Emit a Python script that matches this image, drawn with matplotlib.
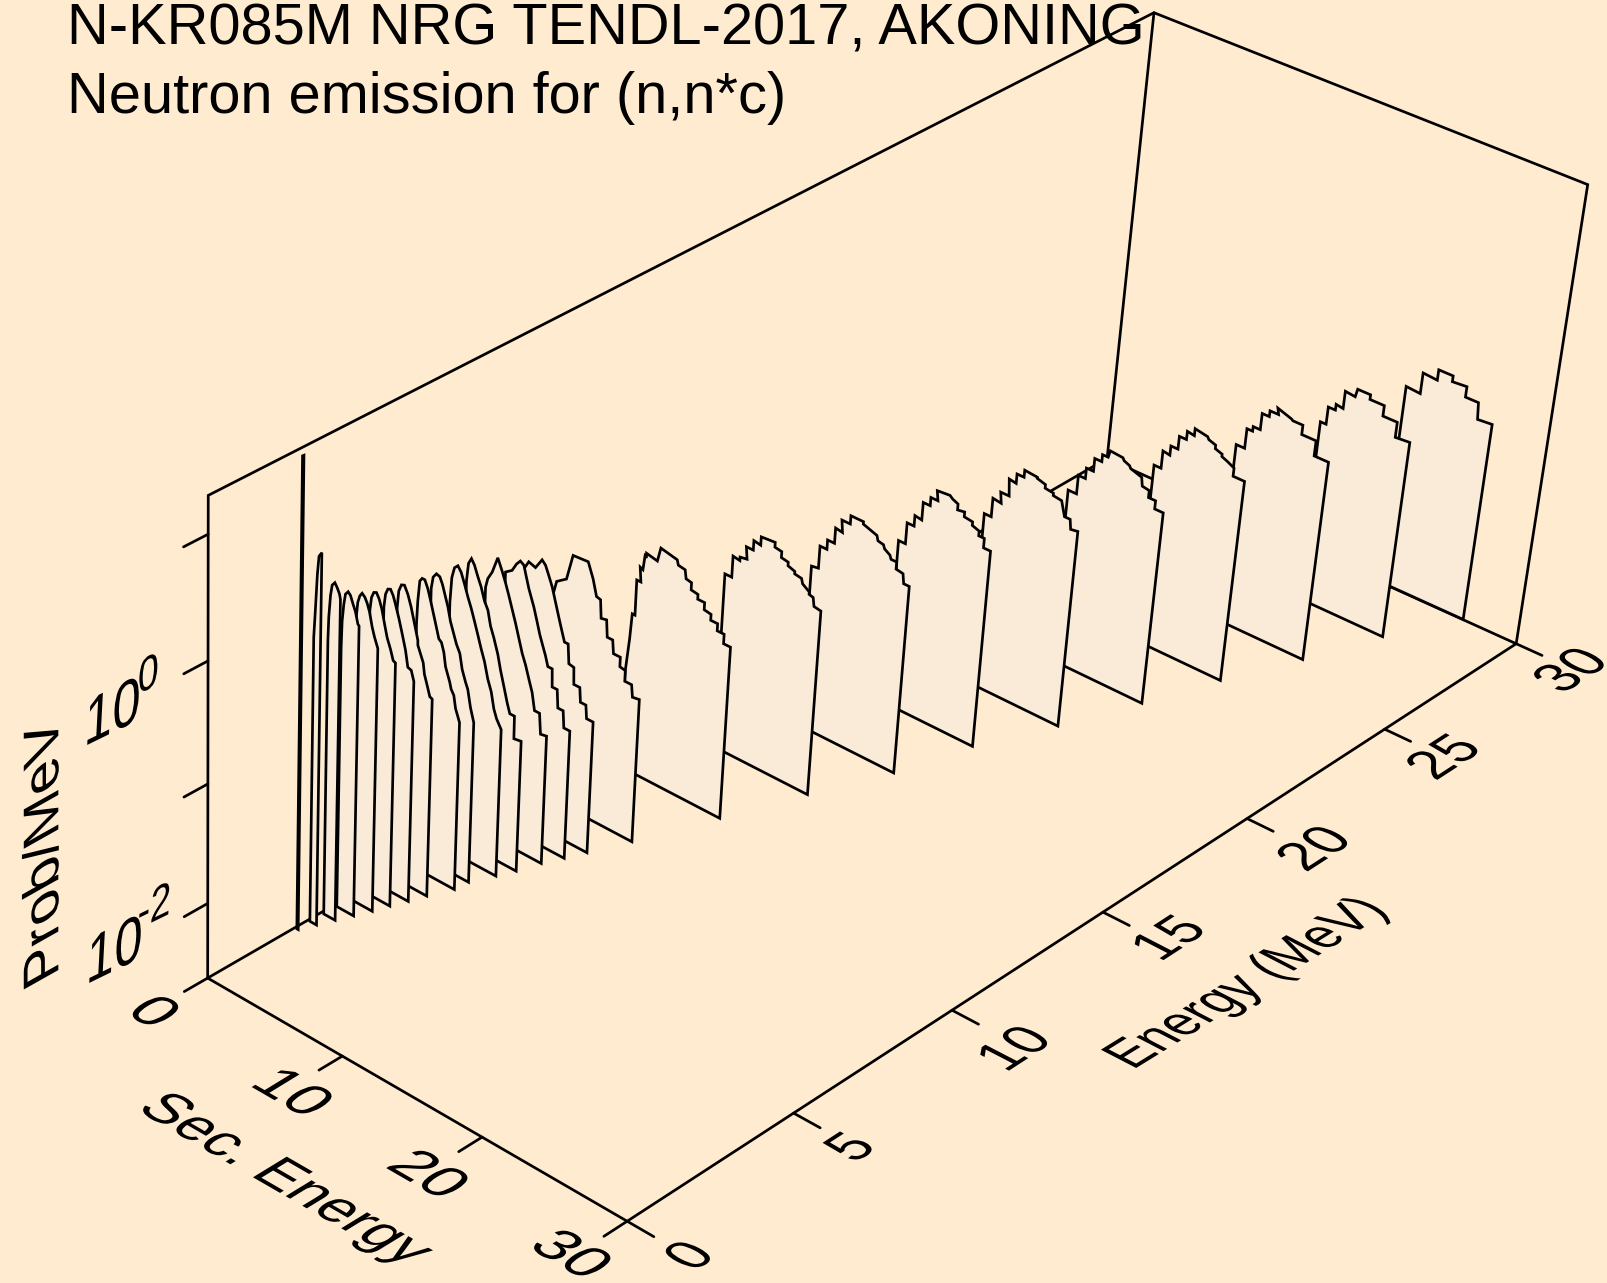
import numpy as np, matplotlib
matplotlib.use('Agg')
import matplotlib.pyplot as plt
from matplotlib.patheffects import AbstractPathEffect
from matplotlib.transforms import Affine2D
from mpl_toolkits.mplot3d.art3d import Poly3DCollection

W, H = 1607, 1283
BG = '#FFEBCF'; FACE = '#FAEBD9'; FONT = 'Liberation Sans'; LW = 1.95

# ---------- data ----------
title_lines = ['N-KR085M NRG TENDL-2017, AKONING', 'Neutron emission for (n,n*c)']
energy_ticks = [0, 5, 10, 15, 20, 25, 30]
sec_ticks = [0, 10, 20, 30]
logprob_major = [-2, 0]
logprob_minor = [-1, 1]
sec_lim = (0, 30); energy_lim = (0, 30); logprob_lim = (-2.64, 1.30)

energies = [2.58, 2.97, 3.37, 3.76, 4.16, 4.56, 4.96, 5.38, 5.97, 6.38, 6.96, 7.40, 7.99, 8.48,
            8.98, 9.97, 11.98, 14.02, 16.00, 18.04, 20.01, 22.06, 24.05, 26.06, 28.12, 30.02]
sec_energy = [
 [0.1, 0.2],
 [0.1, 0.1, 0.2, 0.3, 0.4, 0.6],
 [0.14, 0.18, 0.28, 0.39, 0.58, 0.75, 0.92, 1.00],
 [0.15, 0.19, 0.29, 0.40, 0.59, 0.76, 0.96, 1.14, 1.33, 1.42],
 [0.24, 0.32, 0.46, 0.62, 0.82, 1.00, 1.18, 1.39, 1.57, 1.83],
 [0.23, 0.33, 0.49, 0.68, 0.88, 1.09, 1.31, 1.52, 1.78, 1.99, 2.16],
 [0.27, 0.37, 0.53, 0.72, 0.92, 1.10, 1.37, 1.63, 1.90, 2.10, 2.35, 2.56],
 [0.22, 0.31, 0.49, 0.71, 0.97, 1.23, 1.50, 1.77, 1.78, 1.99, 2.20, 2.31, 2.53, 2.74, 2.92],
 [0.24, 0.29, 0.40, 0.56, 0.76, 0.99, 1.20, 1.42, 1.64, 1.88, 2.08, 2.27, 2.42, 2.76, 2.87, 3.08, 3.23, 3.55],
 [0.26, 0.38, 0.61, 0.86, 1.06, 1.28, 1.50, 1.72, 1.93, 2.20, 2.46, 2.66, 2.93, 3.11, 3.35, 3.62],
 [0.27, 0.36, 0.53, 0.77, 1.02, 1.28, 1.55, 1.82, 2.08, 2.36, 2.63, 2.90, 3.18, 3.46, 3.69, 3.91, 4.27],
 [0.39, 0.50, 0.70, 0.93, 1.20, 1.46, 1.73, 2.00, 2.23, 2.49, 2.82, 3.06, 3.39, 3.62, 3.84, 4.18, 4.20, 4.73],
 [0.41, 0.55, 0.85, 1.22, 1.56, 1.83, 2.10, 2.38, 2.66, 2.94, 3.22, 3.49, 3.76, 4.04, 4.26, 4.63, 4.76, 5.20],
 [0.68, 1.15, 1.45, 1.72, 1.98, 2.20, 2.40, 2.59, 2.81, 3.09, 3.31, 3.59, 3.78, 3.98, 4.30, 4.35, 4.72, 4.82, 5.21, 5.31, 5.75],
 [0.84, 1.18, 1.68, 2.13, 2.39, 2.65, 2.93, 3.21, 3.49, 3.78, 3.97, 4.24, 4.35, 4.72, 4.77, 5.21, 5.30, 5.70, 5.79, 6.27],
 [0.8, 1.0, 1.7, 2.1, 3.2, 3.6, 3.9, 4.2, 4.3, 4.7, 4.8, 5.2, 5.3, 5.8, 5.8, 6.2, 6.2, 6.7, 6.8, 7.3],
 [1.8, 2.0, 2.1, 2.3, 2.3, 2.6, 2.5, 2.7, 2.8, 2.9, 2.9, 3.7, 3.9, 5.1, 5.2, 5.7, 5.8, 6.2, 6.2, 6.7, 6.7, 7.2, 7.2, 7.7, 7.7, 8.2, 8.2, 8.7, 8.7, 9.2],
 [4.2, 4.7, 4.7, 5.2, 5.2, 5.7, 5.6, 6.1, 6.1, 6.6, 6.6, 7.6, 7.6, 8.1, 8.1, 8.6, 8.6, 9.1, 9.1, 9.6, 9.7, 10.2, 10.2, 10.5, 10.6, 11.1],
 [6.2, 6.7, 6.7, 7.2, 7.2, 7.7, 7.7, 8.2, 8.1, 8.7, 8.7, 9.6, 9.6, 10.1, 10.6, 10.7, 11.1, 11.2, 11.6, 11.7, 12.1, 12.1, 12.6, 12.7, 13.1],
 [8.1, 8.6, 8.6, 9.1, 9.1, 9.6, 9.6, 10.1, 10.1, 10.6, 10.5, 11.4, 11.6, 12.0, 12.0, 12.5, 12.5, 13.1, 13.1, 13.6, 13.6, 14.0, 14.0, 14.5],
 [10.1, 10.6, 10.6, 11.2, 11.1, 11.7, 11.6, 12.1, 12.1, 12.6, 12.6, 13.5, 13.5, 14.1, 14.1, 14.7, 14.7, 15.3, 15.6, 16.0, 16.1, 16.6],
 [11.9, 12.5, 12.5, 13.0, 13.0, 13.5, 13.5, 14.0, 14.0, 14.4, 14.5, 15.4, 15.5, 15.9, 16.0, 16.8, 16.9, 17.4, 17.4, 17.9, 17.9, 18.5],
 [14.0, 14.5, 14.5, 15.0, 15.0, 15.5, 15.5, 16.0, 16.0, 16.5, 16.5, 17.4, 17.5, 18.0, 18.0, 18.5, 18.5, 18.9, 19.4, 19.4, 20.2],
 [15.9, 16.5, 16.5, 16.9, 16.9, 17.4, 17.4, 17.9, 17.9, 18.5, 18.4, 19.4, 19.5, 20.2, 20.2, 21.2, 21.2, 22.2],
 [17.9, 18.3, 18.3, 18.8, 18.8, 19.3, 19.3, 20.0, 20.1, 21.0, 21.0, 22.0, 22.0, 23.0, 23.0, 24.0],
 [20.2, 21.2, 21.2, 22.2, 22.2, 23.2, 23.2, 24.2, 24.2, 25.1, 25.2, 26.2],
]
log_prob = [
 [1.25, 1.26],
 [-1.41, -0.25, -0.00, 0.27, 0.42, 0.46],
 [-0.33, -0.14, 0.04, 0.13, 0.16, 0.13, 0.09, 0.05],
 [-0.45, -0.23, -0.09, 0.00, 0.03, 0.01, -0.05, -0.10, -0.19, -0.20],
 [-0.24, -0.13, -0.07, -0.04, -0.06, -0.10, -0.16, -0.27, -0.34, -0.42],
 [-0.26, -0.15, -0.10, -0.09, -0.13, -0.20, -0.31, -0.41, -0.49, -0.57, -0.58],
 [-0.29, -0.18, -0.13, -0.12, -0.16, -0.22, -0.32, -0.43, -0.55, -0.68, -0.69, -0.77],
 [-0.36, -0.22, -0.16, -0.15, -0.21, -0.30, -0.42, -0.54, -0.58, -0.64, -0.70, -0.79, -0.87, -0.95, -0.96],
 [-0.57, -0.39, -0.22, -0.19, -0.19, -0.25, -0.33, -0.42, -0.51, -0.61, -0.63, -0.70, -0.81, -0.92, -0.97, -1.01, -1.11, -1.21],
 [-0.35, -0.25, -0.21, -0.22, -0.27, -0.35, -0.43, -0.54, -0.61, -0.70, -0.76, -0.88, -0.97, -1.02, -1.16, -1.27],
 [-0.55, -0.34, -0.25, -0.22, -0.26, -0.34, -0.43, -0.51, -0.60, -0.70, -0.80, -0.89, -1.02, -1.11, -1.24, -1.31, -1.38],
 [-0.43, -0.28, -0.23, -0.27, -0.35, -0.42, -0.52, -0.58, -0.70, -0.78, -0.90, -1.02, -1.16, -1.26, -1.34, -1.34, -1.53, -1.52],
 [-0.57, -0.49, -0.42, -0.28, -0.37, -0.45, -0.54, -0.64, -0.74, -0.85, -0.96, -1.04, -1.14, -1.24, -1.38, -1.38, -1.55, -1.54],
 [-0.50, -0.46, -0.39, -0.35, -0.37, -0.46, -0.54, -0.60, -0.67, -0.78, -0.87, -0.96, -1.02, -1.10, -1.10, -1.25, -1.25, -1.40, -1.40, -1.54, -1.54],
 [-0.54, -0.46, -0.48, -0.39, -0.42, -0.49, -0.57, -0.68, -0.79, -0.90, -0.97, -0.97, -1.13, -1.14, -1.28, -1.28, -1.40, -1.40, -1.51, -1.51],
 [-0.89, -0.78, -0.72, -0.50, -0.49, -0.61, -0.74, -0.75, -0.90, -0.89, -1.03, -1.03, -1.14, -1.14, -1.22, -1.23, -1.32, -1.32, -1.42, -1.41],
 [-1.80, -1.51, -1.29, -1.29, -0.99, -0.99, -0.87, -0.88, -0.76, -0.77, -0.73, -0.75, -0.63, -0.66, -0.70, -0.71, -0.78, -0.79, -0.85, -0.86, -0.90, -0.90, -0.96, -0.97, -1.02, -1.02, -1.08, -1.08, -1.16, -1.16],
 [-1.13, -1.13, -0.95, -0.96, -0.93, -0.92, -0.82, -0.82, -0.74, -0.75, -0.68, -0.67, -0.71, -0.72, -0.77, -0.78, -0.81, -0.83, -0.85, -0.86, -0.90, -0.94, -0.96, -0.97, -1.04, -1.05],
 [-1.24, -1.23, -1.04, -1.04, -0.96, -0.96, -0.83, -0.84, -0.74, -0.74, -0.67, -0.67, -0.69, -0.71, -0.73, -0.77, -0.78, -0.81, -0.84, -0.87, -0.87, -0.93, -0.94, -1.02, -1.02],
 [-1.21, -1.21, -1.03, -1.03, -0.94, -0.95, -0.80, -0.80, -0.73, -0.73, -0.65, -0.64, -0.66, -0.68, -0.73, -0.72, -0.76, -0.77, -0.80, -0.82, -0.86, -0.86, -0.94, -0.94],
 [-1.15, -1.15, -0.99, -1.00, -0.91, -0.91, -0.77, -0.78, -0.70, -0.70, -0.64, -0.65, -0.66, -0.68, -0.71, -0.72, -0.74, -0.75, -0.87, -0.87, -0.95, -0.94],
 [-1.14, -1.14, -0.98, -0.98, -0.89, -0.89, -0.78, -0.78, -0.72, -0.72, -0.66, -0.67, -0.69, -0.71, -0.73, -0.76, -0.83, -0.84, -0.90, -0.90, -0.97, -0.97],
 [-1.09, -1.09, -0.94, -0.95, -0.87, -0.87, -0.76, -0.76, -0.69, -0.70, -0.64, -0.66, -0.68, -0.70, -0.73, -0.75, -0.77, -0.79, -0.82, -0.89, -0.89],
 [-1.09, -1.09, -0.92, -0.92, -0.88, -0.88, -0.74, -0.74, -0.69, -0.69, -0.64, -0.68, -0.69, -0.69, -0.77, -0.77, -0.90, -0.90],
 [-1.07, -1.07, -0.92, -0.92, -0.87, -0.88, -0.73, -0.74, -0.67, -0.67, -0.71, -0.71, -0.80, -0.80, -0.93, -0.92],
 [-0.90, -0.91, -0.73, -0.74, -0.65, -0.65, -0.70, -0.69, -0.78, -0.78, -0.92, -0.91],
]

# ---------- projection: fitted to the box corners and axis ticks (pixels from top-left) ----------
s0, s1 = sec_lim; e0, e1 = energy_lim; z0, z1 = logprob_lim
anchors = [((s0, e0, z0), (208, 979)), ((s1, e0, z0), (627, 1221)), ((s1, e1, z0), (1517, 644)),
           ((s0, e1, z0), (1106, 458)), ((s0, e0, z1), (208, 495)), ((s0, e1, z1), (1155, 13)),
           ((s1, e1, z1), (1587, 184.5)), ((s0, e0, -2), (208, 902)), ((s0, e0, 0), (208, 663)),
           ((s0, e0, 1), (208, 533))]
rows = []
for (X, Y, Z), (u, v) in anchors:
    rows.append([X, Y, Z, 1, 0, 0, 0, 0, -u*X, -u*Y, -u*Z, -u])
    rows.append([0, 0, 0, 0, X, Y, Z, 1, -v*X, -v*Y, -v*Z, -v])
P_pix = np.linalg.svd(np.array(rows, float))[2][-1].reshape(3, 4)

fig = plt.figure(figsize=((W + 0.01) / 100, (H + 0.01) / 100), dpi=100, facecolor=BG)
ax = fig.add_axes([0, 0, 1, 1], projection='3d')
ax.set_axis_off()
ax.patch.set_visible(False)
ax.computed_zorder = False
ax.apply_aspect = lambda *a, **k: None

# pixels -> the 2D data space of the 3D axes
inv = ax.transData.inverted()
o = inv.transform((0, H)); dx = inv.transform((1, H)) - o; dy = inv.transform((0, H - 1)) - o
T = np.array([[dx[0], dy[0], o[0]], [dx[1], dy[1], o[1]], [0, 0, 1]])
P = T @ P_pix
P = P * np.sign(P[2] @ np.array([15, 15, 0, 1.0]))
# third row is only a depth: negative after the perspective divide, as the 3D line drawing wants
M = np.vstack([P[0], P[1], -0.001 * np.array([0, 1, 0, 100.0]), P[2]])
ax.get_proj = lambda: M


def line3(s, e, z, zorder=1):
    ax.plot(s, e, z, color='black', lw=LW, zorder=zorder, solid_capstyle='round', solid_joinstyle='miter',
            clip_on=False)


# box
line3([s0, s1, s1], [e0, e0, e1], [z0, z0, z0])
line3([s1, s0, s0], [e1, e1, e0], [z0, z0, z0])
line3([s0, s0, s0, s1, s1], [e0, e0, e1, e1, e1], [z0, z1, z1, z1, z0])
line3([s0, s0], [e1, e1], [z0, z1])

# ticks
tick_s = 1.8; tick_e = 0.68
for v in sec_ticks:
    line3([v, v], [e0, e0 - tick_e], [z0, z0])
for v in energy_ticks:
    line3([s1, s1 + tick_s], [v, v], [z0, z0])
for v in logprob_major + logprob_minor:
    line3([s0, s0], [e0, e0 - tick_e], [v, v])

# spectra, far to near
for i, (E, s, z) in enumerate(zip(energies, sec_energy, log_prob)):
    ss = [s[0]] + s + [s[-1]]
    zz = [z0] + z + [z0]
    verts = [list(zip(ss, [E] * len(ss), zz))]
    poly = Poly3DCollection(verts, facecolors=FACE, edgecolors='black', linewidths=LW,
                            zorder=100 - i, joinstyle='miter')
    ax.add_collection3d(poly, autolim=False)


class Planar(AbstractPathEffect):
    """Draws rotated text in an axis plane: glyph x and y axes end up along e1 and e2."""
    def __init__(self, e1, e2, rot, scale=1.0):
        super().__init__()
        c, n = np.cos(np.radians(rot)), np.sin(np.radians(rot))
        A = scale * np.array([[e1[0], e2[0]], [e1[1], e2[1]]]) @ np.array([[c, n], [-n, c]])
        self.m = Affine2D(np.array([[A[0, 0], A[0, 1], 0], [A[1, 0], A[1, 1], 0], [0, 0, 1.0]]))

    def draw_path(self, renderer, gc, tpath, affine, rgbFace=None):
        b = tpath.get_extents(affine)
        cx, cy = (b.x0 + b.x1) / 2, (b.y0 + b.y1) / 2
        aff = affine + Affine2D().translate(-cx, -cy) + self.m + Affine2D().translate(cx, cy)
        renderer.draw_path(gc, tpath, aff, rgbFace)


FS = 41.55


def label(x, y, txt, e1, e2, rot, fs=FS, scale=1.0):
    fig.text(x / W, 1 - y / H, txt, ha='center', va='center', fontsize=fs / scale, family=FONT, rotation=rot,
             color='black', path_effects=[Planar(e1, e2, rot, scale)])


for k, txt in enumerate(title_lines):
    fig.text(67 / W, 1 - (44 + 69 * k) / H, txt, ha='left', va='baseline', fontsize=FS, family=FONT, color='black')

SEC1 = (0.866 * 1.06, -0.50 * 1.06); SEC2 = (0.85, 0.52)
EN1 = (0.84 * 0.92, 0.545 * 0.92); EN2 = (-0.89, 0.46)
Z1 = (0.90 * 0.97, 0.44 * 0.97); Z2 = (0.06, 1.15)

for v, (x, y), sc in zip(sec_ticks, [(153, 1015), (291, 1095), (427, 1177), (571, 1256)], [1, 1, 1, 1.5]):
    label(x, y, str(v), SEC1, SEC2, -30, scale=sc)
for v, (x, y), sc in zip(energy_ticks, [(690, 1258), (851, 1151), (1016, 1051), (1170, 941), (1316, 851), (1445, 760), (1571, 672)],
                         [1.3, 1, 1, 1, 1, 1, 1.4]):
    label(x, y, str(v), EN1, EN2, 33, scale=sc)
label(285, 1181, 'Sec. Energy', (0.866 * 1.0, -0.50 * 1.0), SEC2, -30)
label(1247, 985, 'Energy (MeV)', (0.85 * 0.85, 0.525 * 0.85), EN2, 32)
label(46, 854, 'Prob/MeV', (0.0, 1.02), (-0.87, -0.49), 90)
# z tick labels: base and exponent
label(116, 953, '10', Z1, Z2, 26); label(156, 908, '-2', Z1, Z2, 26, fs=FS * 0.74)
label(114, 715, '10', Z1, Z2, 26); label(150, 676, '0', Z1, Z2, 26, fs=FS * 0.74)

fig.savefig('out.png', dpi=100, facecolor=BG)
